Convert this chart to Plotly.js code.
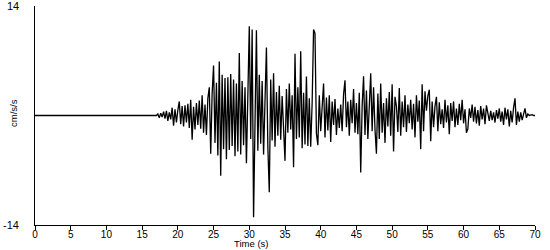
<!DOCTYPE html>
<html>
<head>
<meta charset="utf-8">
<script src="https://cdn.plot.ly/plotly-3.0.1.min.js"></script>
<style>html,body{margin:0;padding:0;background:#fff;}#chart{width:550px;height:250px;}</style>
</head>
<body>
<div id="chart"></div>
<script>
// Quiet pre-event segment (s, cm/s/s)
const quietTimes = [0];
const quietValues = [0];
// Recorded motion, sampled every 0.2 s starting at 17.0 s
const sampleStart = 17.0;
const sampleStep = 0.2;
const motionValues = [
  0, 0.2, -0.3, 0.3, -0.2,
  0.5, -0.4, 0.6, -0.7, 0.4,
  -0.5, 1.0, -1.3, 0.8, -0.9,
  0.7, 1.8, -1.1, 1.2, -1.4,
  1.3, -0.9, 1.5, -1.6, 2.0,
  -3.1, 1.1, -1.8, 1.6, -1.2,
  1.9, -1.7, 2.6, -2.2, 1.4,
  -2.5, 2.2, 3.6, -4.9, 2.8,
  6.4, -3.5, 4.2, -5.1, 6.9,
  -7.7, 5.2, -4.3, 4.8, -5.6,
  4.9, -4.4, 5.3, -3.9, 4.6,
  -5.2, 4.1, -4.6, 8.0, -5.0,
  4.4, -3.8, 3.6, -6.1, 2.5,
  11.4, -3.0, 11.0, -13.0, 3.0,
  10.9, -4.5, 5.2, -3.6, 4.4,
  -5.0, 3.9, 8.7, -4.1, -9.8,
  4.6, -3.2, 5.4, -4.0, 3.0,
  -2.6, 3.8, -3.1, 2.5, -2.0,
  -5.8, 3.4, -2.2, 4.1, -1.8,
  2.6, -6.6, 7.9, -3.0, 3.6,
  -2.8, 8.2, -4.2, 2.9, -3.7,
  5.0, -3.9, 2.2, -4.0, 1.6,
  11.0, 10.5, -2.3, -3.8, 2.6,
  -2.0, 1.5, 4.1, -2.8, 2.3,
  -1.9, 2.6, -3.4, 1.8, -1.2,
  2.1, -2.5, 0.9, -1.6, 1.4,
  -2.0, 2.7, 4.5, -1.5, 1.8,
  -2.6, 2.0, -1.0, 3.4, -2.2,
  1.6, -2.4, 2.9, -7.3, 1.2,
  5.0, -2.5, 3.2, -3.0, 1.9,
  5.4, -2.0, 3.6, -1.8, -4.9,
  2.8, -3.0, 4.1, -2.2, 1.6,
  -3.5, 2.2, -1.4, 3.0, -2.6,
  4.0, -4.6, 2.4, 1.2, -2.1,
  3.5, -2.6, 1.8, -1.5, 2.6,
  -2.1, 1.4, -1.0, 2.0, -1.8,
  1.5, -2.8, 2.6, -0.8, 1.9,
  -4.3, 4.0, -2.0, 3.1, 0.6,
  2.5, 3.3, -3.3, 1.8, -1.5,
  1.2, 2.4, -2.0, 1.7, -1.1,
  0.8, -1.6, 2.0, -0.9, 1.3,
  -2.4, 1.6, -0.7, 1.8, -1.5,
  0.9, -1.2, 1.5, -0.6, 2.0,
  -1.0, 0.8, -2.2, -1.7, 0.9,
  -0.3, 1.4, -0.8, 1.1, -1.0,
  0.7, -1.3, 1.2, -0.5, 0.9,
  -1.1, 1.3, 0.2, -0.7, 0.6,
  -0.6, 0.4, -0.9, 0.7, -0.4,
  0.9, -0.8, 0.5, -1.2, 1.0,
  -0.5, 0.8, -1.4, 0.6, -0.9,
  1.0, 2.2, -1.2, 0.5, -0.8,
  0.4, -0.6, 0.3, 0.9, -0.3,
  0.2, 0.0, 0.1, 0.1, 0.0,
  0
];
const xTickValues = [0, 5, 10, 15, 20, 25, 30, 35, 40, 45, 50, 55, 60, 65, 70];
const yTickValues = [-14, 14];
const yTickLabels = ['-14', '14'];
const xTitle = 'Time (s)';
const yTitle = 'cm/s/s';

const times = quietTimes.slice();
const values = quietValues.slice();
motionValues.forEach((v, i) => {
  times.push(+(sampleStart + i * sampleStep).toFixed(2));
  values.push(v);
});

const font = {family: '"Liberation Sans", Arial, sans-serif', size: 11, color: '#000'};
const tickFont = {family: '"Liberation Sans", Arial, sans-serif', size: 10, color: '#000'};
const titleFont = {family: '"Liberation Sans", Arial, sans-serif', size: 9.5, color: '#000'};

const yLabelAnnotations = yTickValues.map((v, i) => ({
  text: yTickLabels[i], xref: 'paper', yref: 'y', x: 0, y: v, xshift: -14,
  xanchor: 'right', yanchor: 'middle', showarrow: false, font: font
}));

Plotly.newPlot('chart', [{
  x: times, y: values, type: 'scatter', mode: 'lines',
  line: {color: '#000', width: 1.3}, hoverinfo: 'skip', cliponaxis: false
}], {
  width: 550, height: 250,
  margin: {l: 35, r: 15, t: 6, b: 25, pad: 0},
  paper_bgcolor: '#fff', plot_bgcolor: '#fff',
  font: font,
  showlegend: false,
  xaxis: {
    range: [0, 70], tickvals: xTickValues, ticktext: xTickValues.map(String),
    ticks: 'outside', ticklen: 4, tickcolor: '#000', tickwidth: 1,
    showline: true, linecolor: '#000', linewidth: 1,
    showgrid: false, zeroline: false, tickfont: tickFont, ticklabelstandoff: -4
  },
  yaxis: {
    range: [-14, 14], tickvals: yTickValues, showticklabels: false,
    ticks: '', showline: true, linecolor: '#000', linewidth: 1,
    showgrid: false, zeroline: false
  },
  annotations: yLabelAnnotations.concat([
    {text: xTitle, xref: 'paper', yref: 'paper', x: (251 - 35) / 500, y: 0, yshift: -25,
     xanchor: 'center', yanchor: 'bottom', borderpad: 0, showarrow: false, font: titleFont},
    {text: yTitle, xref: 'paper', yref: 'paper', x: 0, xshift: -22, y: (225 - 113) / 219,
     xanchor: 'center', yanchor: 'middle', textangle: -90, showarrow: false, font: titleFont}
  ])
}, {staticPlot: true, displayModeBar: false});
</script>
</body>
</html>
